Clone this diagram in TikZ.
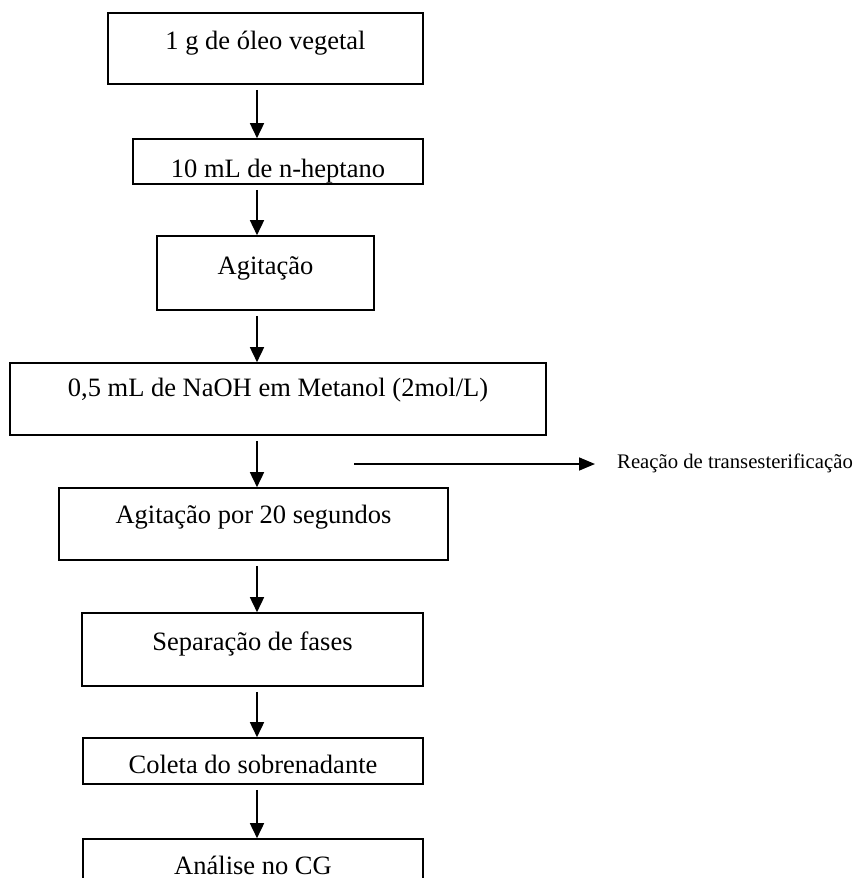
\documentclass[tikz,border=0pt]{standalone}
\usepackage{fontspec}
\setmainfont{Liberation Serif}
\usetikzlibrary{arrows.meta}
\begin{document}
\begin{tikzpicture}[x=1pt,y=-1pt,
  box/.style={draw, line width=1.6pt, rectangle, inner sep=0pt},
  lbl/.style={anchor=base, inner sep=0pt, font=\fontsize{26.5}{30}\selectfont},
  sidelbl/.style={anchor=base west, inner sep=0pt, font=\fontsize{20.7}{24}\selectfont},
  arr/.style={line width=1.6pt, -{Triangle[width=14pt,length=15pt]}},
  harr/.style={line width=1.6pt, -{Triangle[width=13pt,length=16pt]}}]
\useasboundingbox (0,0) rectangle (861,878);
\begin{scope}
\clip (0,0) rectangle (861,878);
\coordinate (ax) at (257,0);
% boxes
\node[box, minimum width=315pt, minimum height=71pt] (b1) at (265.5,48.5) {};
\node[box, minimum width=290pt, minimum height=45pt] (b2) at (278,161.5) {};
\node[box, minimum width=217pt, minimum height=74pt] (b3) at (265.5,273) {};
\node[box, minimum width=536pt, minimum height=72pt] (b4) at (278,399) {};
\node[box, minimum width=389pt, minimum height=72pt] (b5) at (253.5,524) {};
\node[box, minimum width=341pt, minimum height=73pt] (b6) at (252.5,649.5) {};
\node[box, minimum width=340pt, minimum height=46pt] (b7) at (253,761) {};
\node[box, minimum width=340pt, minimum height=70pt] (b8) at (253,874) {};
% texts
\node[lbl] (t1) at (265.5,49) {1 g de óleo vegetal};
\begin{scope}
\clip (b2.south west) rectangle (b2.north east);
\node[lbl] (t2) at (278,177) {10 mL de n-heptano};
\end{scope}
\node[lbl] (t3) at (265.5,274) {Agitação};
\node[lbl] (t4) at (278,396) {0,5 mL de NaOH em Metanol (2mol/L)};
\node[lbl] (t5) at (253.5,523.5) {Agitação por 20 segundos};
\node[lbl] (t6) at (252.5,650) {Separação de fases};
\node[lbl] (t7) at (253,773) {Coleta do sobrenadante};
\node[lbl] (t8) at (253,874) {Análise no CG};
% arrows
\draw[arr, shorten <=5pt] (b1.south -| ax) -- (b2.north -| ax);
\draw[arr, shorten <=5pt] (b2.south -| ax) -- (b3.north -| ax);
\draw[arr, shorten <=5pt] (b3.south -| ax) -- (b4.north -| ax);
\draw[arr, shorten <=5pt] (b4.south -| ax) -- (b5.north -| ax);
\draw[arr, shorten <=5pt] (b5.south -| ax) -- (b6.north -| ax);
\draw[arr, shorten <=5pt] (b6.south -| ax) -- (b7.north -| ax);
\draw[arr, shorten <=5pt] (b7.south -| ax) -- (b8.north -| ax);
% side arrow
\coordinate (hs) at (354,464);
\node[sidelbl] (rt) at (617,468) {Reação de transesterificação};
\draw[harr, shorten >=22pt] (hs) -- (hs -| rt.west);
\end{scope}
\end{tikzpicture}
\end{document}
